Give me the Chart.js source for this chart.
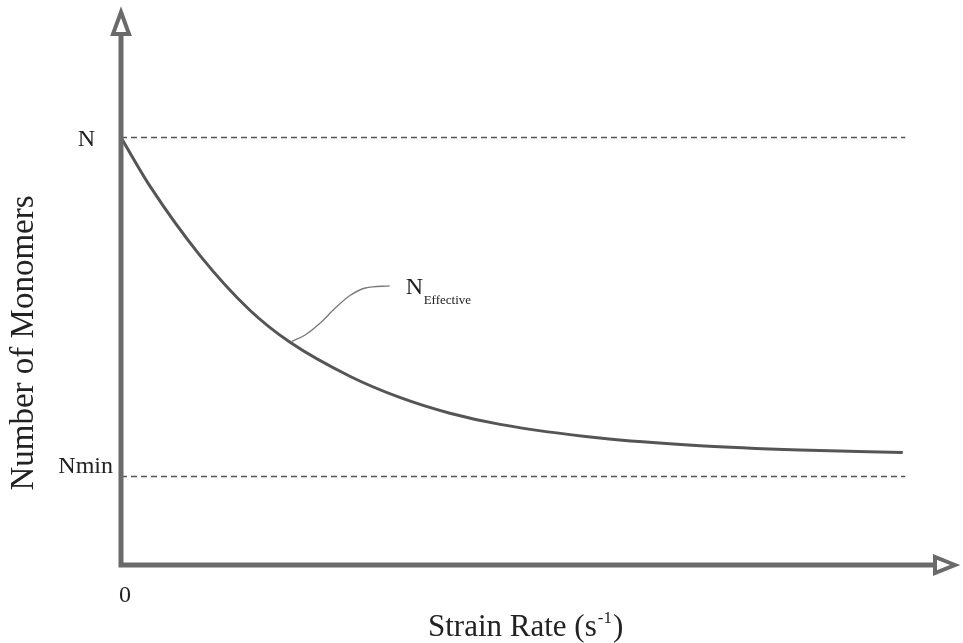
<!DOCTYPE html>
<html>
<head>
<meta charset="utf-8">
<script src="https://cdn.jsdelivr.net/npm/chart.js@4"></script>
<style>
  html, body { margin: 0; padding: 0; background: #fff; }
  #wrap { width: 963px; height: 643px; position: relative; }
</style>
</head>
<body>
<div id="wrap"><canvas id="chart"></canvas></div>
<script>
/* ── data ── */
const curveX  = [0, 3.5, 9.4, 15.4, 20.2, 27.4, 33.3, 39.3, 45.3, 57.2, 69.2, 81.1, 93.4];
const curveY  = [100, 88.5, 72.5, 59.6, 52.1, 44.1, 39.2, 35.5, 32.9, 29.7, 27.9, 26.9, 26.3];
const leaderX = [20.4, 22.0, 23.8, 25.6, 27.4, 29.2, 32.1];
const leaderY = [52.3, 53.8, 56.6, 60.1, 63.1, 64.8, 65.3];
const refX    = [0, 93.7];
const levelN    = 100;
const levelNmin = 20.7;
const yLabels = ['N', 'Nmin'];
const xLabels = ['0'];

const toPts = (xs, ys) => xs.map((x, i) => ({ x, y: ys[i] }));
const flat  = (lvl) => refX.map(x => ({ x, y: lvl }));

/* ── axes, arrows, labels ── */
const decor = {
    id: 'decor',
    afterDraw(chart) {
        const { ctx, chartArea: a, scales: { x, y } } = chart;
        const x0 = x.getPixelForValue(0), y0 = y.getPixelForValue(0);
        ctx.save();

        // axis lines
        ctx.strokeStyle = '#6a6a6a';
        ctx.lineWidth = 5;
        ctx.lineCap = 'butt';
        ctx.beginPath();
        ctx.moveTo(x0, y0 + 2.5);
        ctx.lineTo(x0, a.top + 26);
        ctx.moveTo(x0 - 2.5, y0);
        ctx.lineTo(a.right - 22, y0);
        ctx.stroke();

        // open arrow heads
        ctx.lineWidth = 4;
        ctx.lineJoin = 'miter';
        ctx.fillStyle = '#fff';
        ctx.beginPath();
        ctx.moveTo(x0, a.top + 4);
        ctx.lineTo(x0 + 8, a.top + 26);
        ctx.lineTo(x0 - 8, a.top + 26);
        ctx.closePath();
        ctx.fill(); ctx.stroke();
        ctx.beginPath();
        ctx.moveTo(a.right - 3, y0);
        ctx.lineTo(a.right - 23, y0 - 8);
        ctx.lineTo(a.right - 23, y0 + 8);
        ctx.closePath();
        ctx.fill(); ctx.stroke();

        // tick labels
        ctx.fillStyle = '#222';
        ctx.font = '24px "Liberation Serif", serif';
        ctx.textAlign = 'right';
        ctx.textBaseline = 'middle';
        ctx.fillText(yLabels[0], x0 - 26, y.getPixelForValue(levelN) + 2);
        ctx.textBaseline = 'alphabetic';
        ctx.fillText(yLabels[1], x0 - 8, y.getPixelForValue(levelNmin) - 4);
        ctx.textAlign = 'center';
        ctx.textBaseline = 'middle';
        ctx.fillText(xLabels[0], x0 + 4, y0 + 31);

        // N_Effective tag at end of leader
        const lx = x.getPixelForValue(leaderX[leaderX.length - 1]);
        const ly = y.getPixelForValue(leaderY[leaderY.length - 1]);
        ctx.textAlign = 'left';
        ctx.textBaseline = 'alphabetic';
        ctx.font = '24px "Liberation Serif", serif';
        ctx.fillText('N', lx + 16, ly + 8);
        ctx.font = '13px "Liberation Serif", serif';
        ctx.fillText('Effective', lx + 34, ly + 18);

        // x title with superscript
        ctx.font = '31px "Liberation Serif", serif';
        let tx = 428;
        const ty = y0 + 71;
        const t1 = 'Strain Rate (s';
        ctx.fillText(t1, tx, ty);
        tx += ctx.measureText(t1).width;
        ctx.font = '17px "Liberation Serif", serif';
        ctx.fillText('-1', tx + 1, ty - 13);
        tx += ctx.measureText('-1').width + 2;
        ctx.font = '31px "Liberation Serif", serif';
        ctx.fillText(')', tx, ty);

        // y title
        ctx.translate(24, 343);
        ctx.rotate(-Math.PI / 2);
        ctx.textAlign = 'center';
        ctx.textBaseline = 'middle';
        ctx.font = '33px "Liberation Serif", serif';
        ctx.fillText('Number of Monomers', 0, 0);

        ctx.restore();
    }
};

const dashed = (lvl) => ({
    data: flat(lvl),
    borderColor: '#555',
    borderWidth: 1.3,
    borderDash: [6, 4],
    pointRadius: 0,
    tension: 0
});

new Chart(document.getElementById('chart'), {
    type: 'line',
    data: {
        datasets: [
            dashed(levelN),
            dashed(levelNmin),
            {
                data: toPts(curveX, curveY),
                borderColor: '#555',
                borderWidth: 3,
                pointRadius: 0,
                cubicInterpolationMode: 'monotone'
            },
            {
                data: toPts(leaderX, leaderY),
                borderColor: '#7a7a7a',
                borderWidth: 1.4,
                pointRadius: 0,
                cubicInterpolationMode: 'monotone'
            }
        ]
    },
    options: {
        responsive: true,
        maintainAspectRatio: false,
        animation: false,
        layout: { padding: { left: 121, right: 5, top: 8, bottom: 78 } },
        plugins: { legend: { display: false }, tooltip: { enabled: false } },
        scales: {
            x: { type: 'linear', min: 0, max: 100, display: false },
            y: { type: 'linear', min: 0, max: 130.3, display: false }
        }
    },
    plugins: [decor]
});
</script>
</body>
</html>
